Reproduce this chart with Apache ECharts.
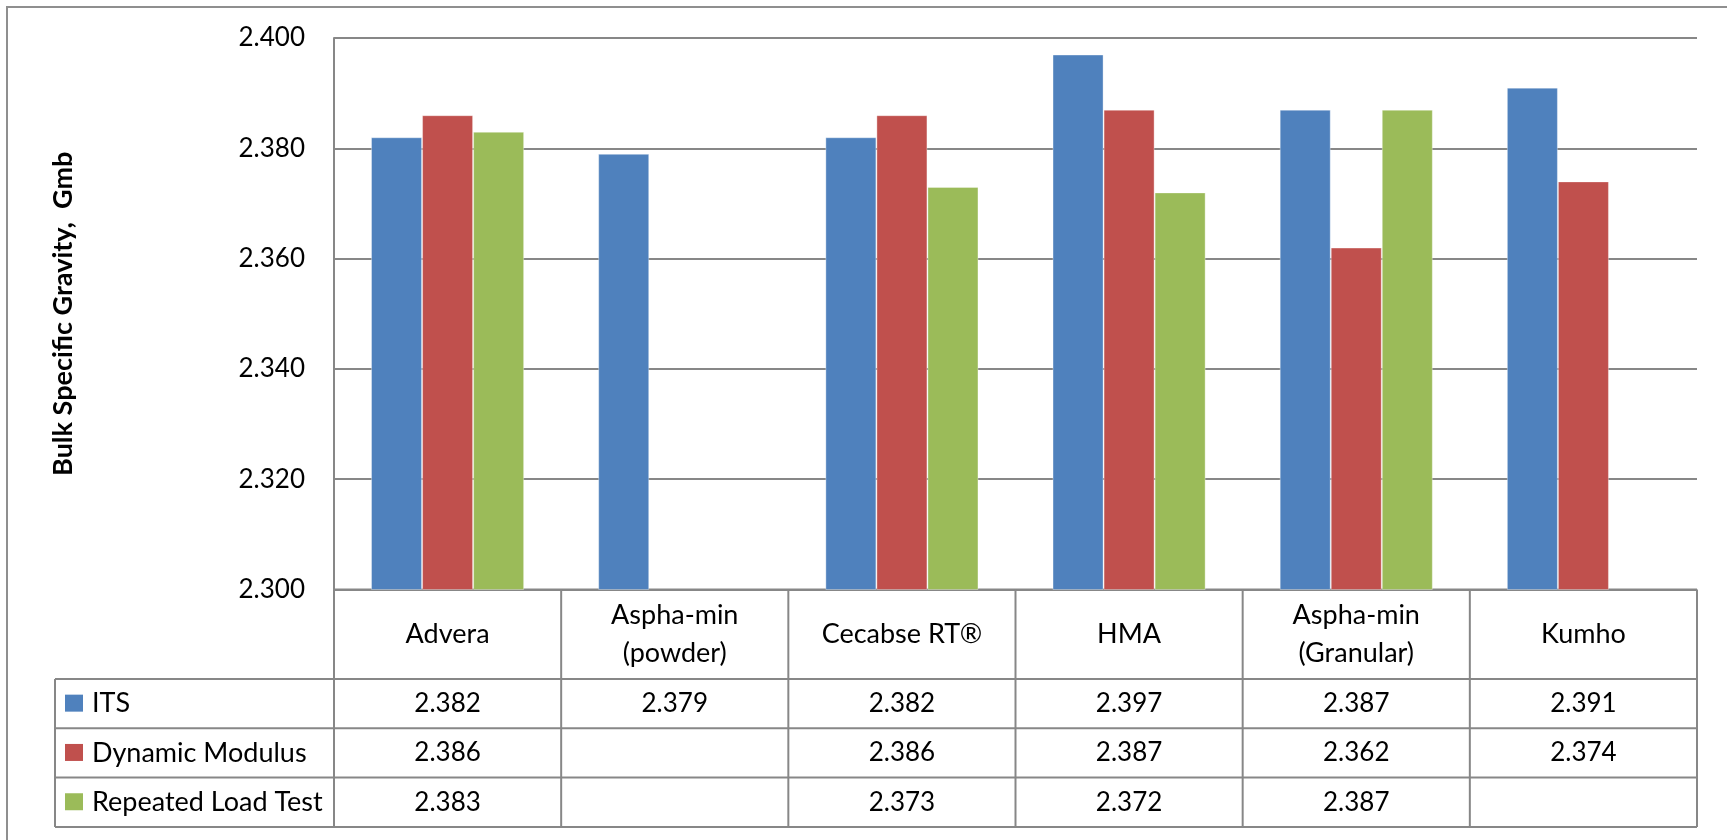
<!DOCTYPE html>
<html>
<head>
<meta charset="utf-8">
<script src="https://cdn.jsdelivr.net/npm/echarts@6/dist/echarts.min.js"></script>
<style>
  html, body { margin: 0; padding: 0; background: #ffffff; }
  #chart { width: 1727px; height: 840px; }
</style>
</head>
<body>
<div id="chart"></div>
<script>
// Mixes and their measured bulk specific gravity per test method
const categories = ['Advera', 'Aspha-min\n(powder)', 'Cecabse RT®', 'HMA', 'Aspha-min\n(Granular)', 'Kumho'];
const seriesNames = ['ITS', 'Dynamic Modulus', 'Repeated Load Test'];
const itsValues = [2.382, 2.379, 2.382, 2.397, 2.387, 2.391];
const dynamicModulusValues = [2.386, null, 2.386, 2.387, 2.362, 2.374];
const repeatedLoadValues = [2.383, null, 2.373, 2.372, 2.387, null];

// Value axis ticks
const yMin = 2.300;
const yMax = 2.400;
const yInterval = 0.020;
const yTitle = 'Bulk Specific Gravity,  Gmb';

const seriesColors = ['#4F81BD', '#C0504D', '#9BBB59'];
const seriesValues = [itsValues, dynamicModulusValues, repeatedLoadValues];

const FONT = 'Lato, "Open Sans", sans-serif';
const LINE = '#878787';
const NUM_SIZE = 26;
const LABEL_SIZE = 27;

const chart = echarts.init(document.getElementById('chart'), null, { renderer: 'canvas' });

chart.setOption({
  animation: false,
  backgroundColor: '#ffffff',
  grid: { left: 334, top: 38, width: 1363, height: 551.5 },
  xAxis: {
    type: 'category',
    data: categories,
    axisLabel: { show: false },
    axisTick: { show: false },
    axisLine: { show: false },
    splitLine: { show: false }
  },
  yAxis: {
    type: 'value',
    min: yMin,
    max: yMax,
    interval: yInterval,
    axisLabel: {
      formatter: v => v.toFixed(3),
      fontFamily: FONT,
      fontSize: NUM_SIZE,
      color: '#000',
      margin: 29
    },
    axisLine: { show: true, lineStyle: { color: LINE, width: 2 } },
    axisTick: { show: false },
    splitLine: { show: true, lineStyle: { color: LINE, width: 2 } }
  },
  series: seriesNames.map((name, i) => ({
    name,
    type: 'bar',
    data: seriesValues[i],
    barGap: '0%',
    barCategoryGap: '32.6%',
    itemStyle: { color: seriesColors[i], borderColor: 'rgba(255,255,255,0.35)', borderWidth: 1 }
  }))
});

// Axis title plus the data table under the plot: category row, then one row per series with its legend key
function buildTable() {
  const c0 = chart.convertToPixel({ xAxisIndex: 0 }, 0);
  const c1 = chart.convertToPixel({ xAxisIndex: 0 }, 1);
  const band = c1 - c0;
  const left = c0 - band / 2;
  const right = left + band * categories.length;
  const top = chart.convertToPixel({ yAxisIndex: 0 }, yMin);
  const plotTop = chart.convertToPixel({ yAxisIndex: 0 }, yMax);
  const categoryRowH = 89.5;
  const dataRowH = 49.3;
  const legendLeft = 55;
  const rowTops = [top + categoryRowH];
  for (let i = 1; i <= seriesNames.length; i++) rowTops.push(rowTops[0] + dataRowH * i);
  const bottom = rowTops[rowTops.length - 1];

  const els = [];
  const line = (x1, y1, x2, y2) => els.push({
    type: 'line', silent: true,
    shape: { x1, y1, x2, y2 },
    style: { stroke: LINE, lineWidth: 2 }
  });
  const text = (str, x, y, align, size) => els.push({
    type: 'text', silent: true, x, y,
    style: {
      text: str, fill: '#000', fontFamily: FONT, fontSize: size,
      align: align || 'center', verticalAlign: 'middle', lineHeight: 38
    }
  });

  // outer chart border
  els.push({
    type: 'rect', silent: true, z: -10,
    shape: { x: 7, y: 7, width: 1800, height: 900 },
    style: { fill: 'none', stroke: '#8f8f8f', lineWidth: 2 }
  });

  // rotated value-axis title, centred on the plot height
  els.push({
    type: 'text', silent: true,
    x: 63, y: (top + plotTop) / 2, rotation: Math.PI / 2,
    style: {
      text: yTitle, fill: '#000', fontFamily: FONT, fontSize: 27, fontWeight: 'bold',
      align: 'center', verticalAlign: 'middle'
    }
  });

  // horizontal rules
  line(left, top, right, top);
  rowTops.forEach(y => line(legendLeft, y, right, y));
  // vertical rules
  for (let i = 0; i <= categories.length; i++) {
    const x = left + band * i;
    line(x, top, x, bottom);
  }
  line(legendLeft, rowTops[0], legendLeft, bottom);

  // category names
  categories.forEach((cat, i) => text(cat, c0 + band * i, top + categoryRowH / 2, 'center', LABEL_SIZE));

  // legend keys and values
  seriesNames.forEach((name, s) => {
    const yMid = rowTops[s] + dataRowH / 2;
    els.push({
      type: 'rect', silent: true,
      shape: { x: 65, y: yMid - 9, width: 18, height: 17 },
      style: { fill: seriesColors[s] }
    });
    text(name, 92, yMid, 'left', LABEL_SIZE);
    seriesValues[s].forEach((v, i) => {
      if (v != null) text(v.toFixed(3), c0 + band * i, yMid, 'center', NUM_SIZE);
    });
  });

  chart.setOption({ graphic: { elements: els } });
}

buildTable();
</script>
</body>
</html>
